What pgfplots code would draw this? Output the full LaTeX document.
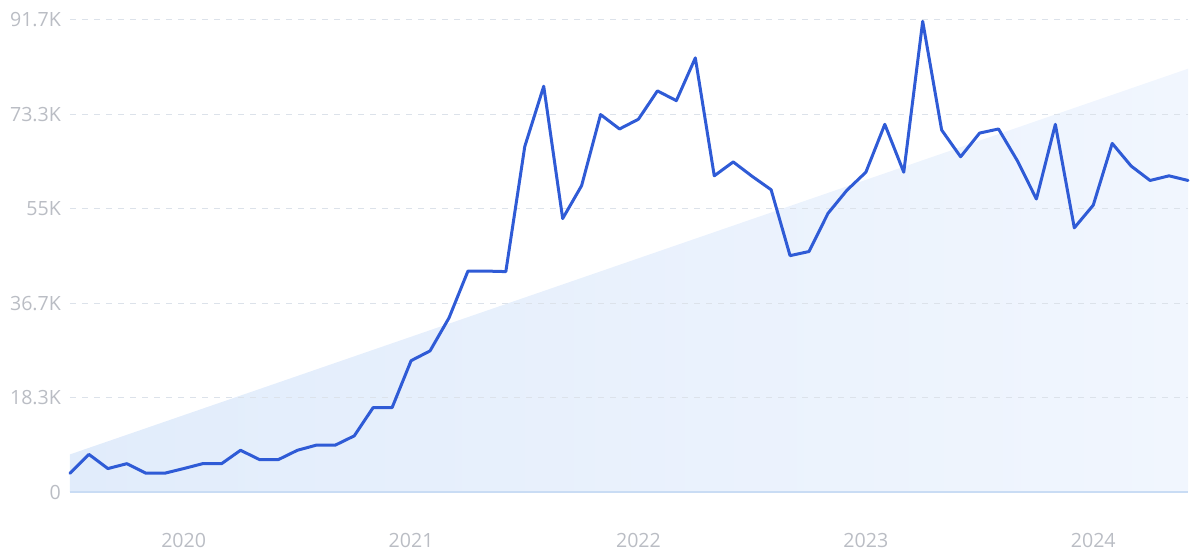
\documentclass[border=0pt]{standalone}
\usepackage{pgfplots}
\pgfplotsset{compat=1.18}
\usepackage{fontspec}
\setmainfont{Open Sans}
\definecolor{lineblue}{HTML}{2F5BD6}
\definecolor{labelgray}{HTML}{BABDC4}
\definecolor{gridgray}{HTML}{DCE2EA}
\definecolor{axisblue}{HTML}{C9DCF4}
\definecolor{fillL}{HTML}{E1ECFB}
\definecolor{fillR}{HTML}{F1F6FE}
\begin{document}
\begin{tikzpicture}
\begin{axis}[
  set layers,
  scale only axis,
  width=559pt, height=236pt,
  xmin=0, xmax=59, ymin=0, ymax=91667,
  axis x line*=bottom, axis y line*=left,
  axis line style={-},
  x axis line style={draw=axisblue, line width=0.6pt},
  y axis line style={draw=none},
  major tick length=0pt,
  scaled y ticks=false,
  scaled x ticks=false,
  xtick={6,18,30,42,54},
  xticklabels={2020,2021,2022,2023,2024},
  ytick={0,18333,36667,55000,73333,91667},
  yticklabels={0,18.3K,36.7K,55K,73.3K,91.7K},
  ymajorgrids,
  grid style={gridgray, line width=0.5pt, dash pattern=on 3pt off 3pt},
  ticklabel style={font=\fontsize{9.8}{11}\selectfont, text=labelgray},
  yticklabel style={anchor=east, xshift=-1pt},
  xticklabel style={anchor=north, yshift=-17pt},
  clip=false,
]
\addplot[on layer=axis background, draw=none, left color=fillL, right color=fillR]
  coordinates {(0,0) (0,7300) (59,82200) (59,0)} -- cycle;
\addplot[lineblue, line width=1.5pt, line join=round, line cap=round, mark=none]
  table[x=x, y=y] {
x y
0 3650
1 7300
2 4550
3 5500
4 3650
5 3650
6 4550
7 5500
8 5500
9 8100
10 6300
11 6300
12 8100
13 9100
14 9100
15 10900
16 16400
17 16400
18 25500
19 27400
20 33800
21 42900
22 42900
23 42800
24 67100
25 78800
26 53100
27 59500
28 73300
29 70500
30 72400
31 77900
32 76000
33 84300
34 61400
35 64100
36 61300
37 58700
38 45900
39 46700
40 54100
41 58600
42 62100
43 71400
44 62100
45 91400
46 70300
47 65100
48 69700
49 70500
50 64300
51 56900
52 71400
53 51300
54 55700
55 67700
56 63300
57 60500
58 61400
59 60500
};
\end{axis}
\pgfresetboundingbox
\path[use as bounding box] (-35pt,-32pt) rectangle (565pt,246pt);
\end{tikzpicture}
\end{document}
